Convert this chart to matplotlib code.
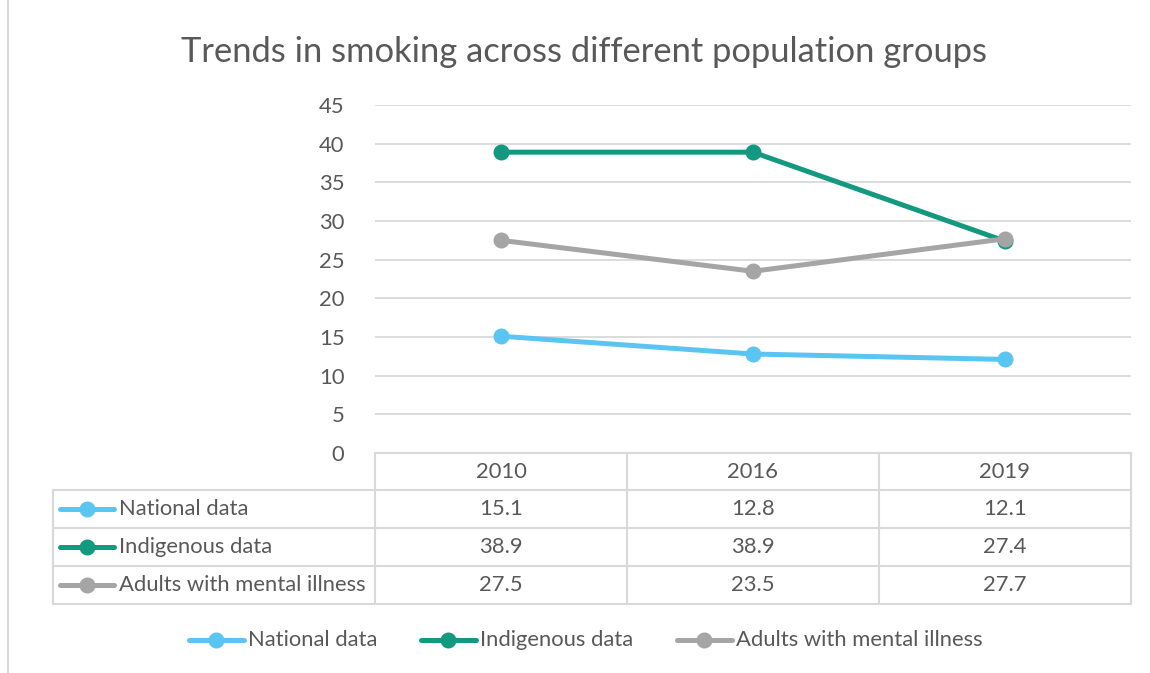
import matplotlib.pyplot as plt
import numpy as np

plt.rcParams['font.family'] = ['Lato', 'DejaVu Sans']

years = ["2010", "2016", "2019"]
series_names = ["National data", "Indigenous data", "Adults with mental illness"]
national = [15.1, 12.8, 12.1]
indigenous = [38.9, 38.9, 27.4]
mental = [27.5, 23.5, 27.7]
colors = ["#5BC5F2", "#13997F", "#A5A5A5"]
yticks = [0, 5, 10, 15, 20, 25, 30, 35, 40, 45]

W, H = 1150, 673
txt = "#595959"
grid = "#D9D9D9"
fs = 15.8

fig = plt.figure(figsize=(W / 100, H / 100), dpi=100)

# overlay axes in pixel coordinates for table / legend / frame
ov = fig.add_axes([0, 0, 1, 1])
ov.set_xlim(0, W)
ov.set_ylim(H, 0)
ov.axis("off")

# plot area
left, right, top, bottom = 375, 1131, 105, 453
ax = fig.add_axes([left / W, 1 - bottom / H, (right - left) / W, (bottom - top) / H])
x = np.arange(len(years))
for vals, c in zip([national, indigenous, mental], colors):
    ax.plot(x, vals, color=c, lw=3.6, marker="o", ms=10.5, zorder=3,
            solid_capstyle="round")
ax.set_xlim(-0.5, len(years) - 0.5)
ax.set_ylim(0, 45)
ax.set_yticks(yticks)
ax.set_xticks([])
ax.grid(axis="y", color=grid, lw=1.3)
ax.set_axisbelow(True)
for s in ax.spines.values():
    s.set_visible(False)
ax.tick_params(axis="y", length=0, pad=22, labelsize=fs, labelcolor=txt)
ax.patch.set_alpha(0)

# title
ov.text(584, 52, "Trends in smoking across different population groups",
        ha="center", va="center", fontsize=24.8, color=txt)

# data table
rows = [453, 490, 528, 566, 604]
tleft = 53
colw = (right - left) / len(years)
lc = "#D9D9D9"
lw = 1.5
ov.plot([left, right], [rows[0], rows[0]], color=lc, lw=lw)
for r in rows[1:]:
    ov.plot([tleft, right], [r, r], color=lc, lw=lw)
ov.plot([tleft, tleft], [rows[1], rows[-1]], color=lc, lw=lw)
for i in range(len(years) + 1):
    xx = left + i * colw
    ov.plot([xx, xx], [rows[0], rows[-1]], color=lc, lw=lw)
for i, y in enumerate(years):
    ov.text(left + (i + 0.5) * colw, (rows[0] + rows[1]) / 2, y,
            ha="center", va="center", fontsize=fs, color=txt)
for j, (name, vals, c) in enumerate(zip(series_names, [national, indigenous, mental], colors)):
    yc = (rows[j + 1] + rows[j + 2]) / 2
    ov.plot([60, 114], [yc, yc], color=c, lw=3.6, solid_capstyle="round")
    ov.plot([87], [yc], "o", color=c, ms=10.5)
    ov.text(119, yc, name, ha="left", va="center", fontsize=fs, color=txt)
    for i, v in enumerate(vals):
        ov.text(left + (i + 0.5) * colw, yc, f"{v:.1f}",
                ha="center", va="center", fontsize=fs, color=txt)

# legend
leg_x = [189, 421, 677]
ly = 640
for lx, name, c in zip(leg_x, series_names, colors):
    ov.plot([lx, lx + 55], [ly, ly], color=c, lw=3.6, solid_capstyle="round")
    ov.plot([lx + 27], [ly], "o", color=c, ms=10.5)
    ov.text(lx + 59, ly, name, ha="left", va="center", fontsize=fs, color=txt)

# chart frame
ov.plot([8, 8], [0, H], color=lc, lw=1.5)

fig.savefig("out.png", dpi=100)
